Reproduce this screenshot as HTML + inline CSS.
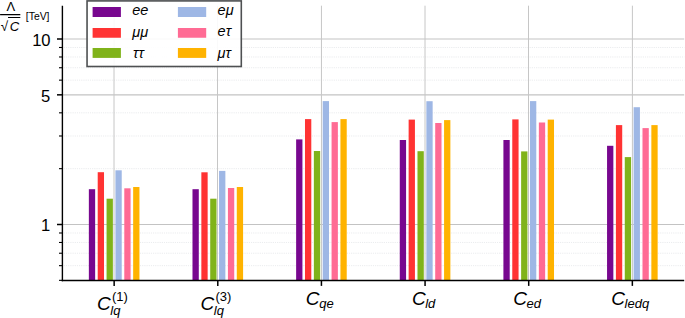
<!DOCTYPE html>
<html><head><meta charset="utf-8"><title>chart</title>
<style>html,body{margin:0;padding:0;background:#fff;font-family:"Liberation Sans",sans-serif;}svg{display:block}</style>
</head><body>
<svg role="img" aria-label="Bar chart of Lambda over sqrt C in TeV for six Wilson coefficients" width="685" height="318" viewBox="0 0 685 318" style="display:block">
<rect width="685" height="318" fill="#fff"/>
<line x1="62.4" x2="684.2" y1="265.65" y2="265.65" stroke="#d5d9dd" stroke-width="0.7" stroke-dasharray="0.7 1.15"/>
<line x1="62.4" x2="684.2" y1="253.23" y2="253.23" stroke="#d5d9dd" stroke-width="0.7" stroke-dasharray="0.7 1.15"/>
<line x1="62.4" x2="684.2" y1="242.48" y2="242.48" stroke="#d5d9dd" stroke-width="0.7" stroke-dasharray="0.7 1.15"/>
<line x1="62.4" x2="684.2" y1="232.99" y2="232.99" stroke="#d5d9dd" stroke-width="0.7" stroke-dasharray="0.7 1.15"/>
<line x1="62.4" x2="684.2" y1="168.66" y2="168.66" stroke="#d5d9dd" stroke-width="0.7" stroke-dasharray="0.7 1.15"/>
<line x1="62.4" x2="684.2" y1="135.99" y2="135.99" stroke="#d5d9dd" stroke-width="0.7" stroke-dasharray="0.7 1.15"/>
<line x1="62.4" x2="684.2" y1="112.82" y2="112.82" stroke="#d5d9dd" stroke-width="0.7" stroke-dasharray="0.7 1.15"/>
<line x1="62.4" x2="684.2" y1="80.15" y2="80.15" stroke="#d5d9dd" stroke-width="0.7" stroke-dasharray="0.7 1.15"/>
<line x1="62.4" x2="684.2" y1="67.73" y2="67.73" stroke="#d5d9dd" stroke-width="0.7" stroke-dasharray="0.7 1.15"/>
<line x1="62.4" x2="684.2" y1="56.98" y2="56.98" stroke="#d5d9dd" stroke-width="0.7" stroke-dasharray="0.7 1.15"/>
<line x1="62.4" x2="684.2" y1="47.49" y2="47.49" stroke="#d5d9dd" stroke-width="0.7" stroke-dasharray="0.7 1.15"/>
<line x1="62.4" x2="684.2" y1="224.50" y2="224.50" stroke="#c3c3c3" stroke-width="1.12"/>
<line x1="62.4" x2="684.2" y1="94.84" y2="94.84" stroke="#c3c3c3" stroke-width="1.12"/>
<line x1="62.4" x2="684.2" y1="39.00" y2="39.00" stroke="#c3c3c3" stroke-width="1.12"/>
<line x1="114.00" x2="114.00" y1="5.7" y2="280.5" stroke="#c6c6c6" stroke-width="1.0"/>
<line x1="217.50" x2="217.50" y1="5.7" y2="280.5" stroke="#c6c6c6" stroke-width="1.0"/>
<line x1="321.45" x2="321.45" y1="5.7" y2="280.5" stroke="#c6c6c6" stroke-width="1.0"/>
<line x1="425.00" x2="425.00" y1="5.7" y2="280.5" stroke="#c6c6c6" stroke-width="1.0"/>
<line x1="528.50" x2="528.50" y1="5.7" y2="280.5" stroke="#c6c6c6" stroke-width="1.0"/>
<line x1="632.40" x2="632.40" y1="5.7" y2="280.5" stroke="#c6c6c6" stroke-width="1.0"/>
<rect x="88.85" y="189.20" width="6.3" height="91.30" fill="#78078f"/>
<rect x="97.71" y="172.20" width="6.3" height="108.30" fill="#ff3333"/>
<rect x="106.57" y="198.70" width="6.3" height="81.80" fill="#80b31a"/>
<rect x="115.43" y="170.30" width="6.3" height="110.20" fill="#9eb7e5"/>
<rect x="124.29" y="188.30" width="6.3" height="92.20" fill="#ff6b94"/>
<rect x="133.15" y="187.00" width="6.3" height="93.50" fill="#ffb300"/>
<rect x="192.49" y="189.20" width="6.3" height="91.30" fill="#78078f"/>
<rect x="201.35" y="172.30" width="6.3" height="108.20" fill="#ff3333"/>
<rect x="210.21" y="198.70" width="6.3" height="81.80" fill="#80b31a"/>
<rect x="219.07" y="170.90" width="6.3" height="109.60" fill="#9eb7e5"/>
<rect x="227.93" y="188.00" width="6.3" height="92.50" fill="#ff6b94"/>
<rect x="236.79" y="187.00" width="6.3" height="93.50" fill="#ffb300"/>
<rect x="296.13" y="139.40" width="6.3" height="141.10" fill="#78078f"/>
<rect x="304.99" y="119.10" width="6.3" height="161.40" fill="#ff3333"/>
<rect x="313.85" y="151.00" width="6.3" height="129.50" fill="#80b31a"/>
<rect x="322.71" y="101.10" width="6.3" height="179.40" fill="#9eb7e5"/>
<rect x="331.57" y="122.10" width="6.3" height="158.40" fill="#ff6b94"/>
<rect x="340.43" y="119.10" width="6.3" height="161.40" fill="#ffb300"/>
<rect x="399.77" y="140.00" width="6.3" height="140.50" fill="#78078f"/>
<rect x="408.63" y="119.60" width="6.3" height="160.90" fill="#ff3333"/>
<rect x="417.49" y="151.20" width="6.3" height="129.30" fill="#80b31a"/>
<rect x="426.35" y="101.20" width="6.3" height="179.30" fill="#9eb7e5"/>
<rect x="435.21" y="123.00" width="6.3" height="157.50" fill="#ff6b94"/>
<rect x="444.07" y="120.10" width="6.3" height="160.40" fill="#ffb300"/>
<rect x="503.41" y="140.00" width="6.3" height="140.50" fill="#78078f"/>
<rect x="512.27" y="119.40" width="6.3" height="161.10" fill="#ff3333"/>
<rect x="521.13" y="151.40" width="6.3" height="129.10" fill="#80b31a"/>
<rect x="529.99" y="101.10" width="6.3" height="179.40" fill="#9eb7e5"/>
<rect x="538.85" y="122.50" width="6.3" height="158.00" fill="#ff6b94"/>
<rect x="547.71" y="119.60" width="6.3" height="160.90" fill="#ffb300"/>
<rect x="607.05" y="145.80" width="6.3" height="134.70" fill="#78078f"/>
<rect x="615.91" y="125.10" width="6.3" height="155.40" fill="#ff3333"/>
<rect x="624.77" y="157.10" width="6.3" height="123.40" fill="#80b31a"/>
<rect x="633.63" y="107.20" width="6.3" height="173.30" fill="#9eb7e5"/>
<rect x="642.49" y="128.10" width="6.3" height="152.40" fill="#ff6b94"/>
<rect x="651.35" y="125.10" width="6.3" height="155.40" fill="#ffb300"/>
<line x1="62.4" x2="62.4" y1="5.7" y2="281.2" stroke="#000" stroke-width="1.4"/>
<line x1="61.699999999999996" x2="684.2" y1="280.5" y2="280.5" stroke="#000" stroke-width="1.4"/>
<line x1="57.0" x2="62.4" y1="224.50" y2="224.50" stroke="#000" stroke-width="1.5"/>
<line x1="57.0" x2="62.4" y1="94.84" y2="94.84" stroke="#000" stroke-width="1.5"/>
<line x1="57.0" x2="62.4" y1="39.00" y2="39.00" stroke="#000" stroke-width="1.5"/>
<line x1="59.0" x2="62.4" y1="280.34" y2="280.34" stroke="#000" stroke-width="1.1"/>
<line x1="59.0" x2="62.4" y1="265.65" y2="265.65" stroke="#000" stroke-width="1.1"/>
<line x1="59.0" x2="62.4" y1="253.23" y2="253.23" stroke="#000" stroke-width="1.1"/>
<line x1="59.0" x2="62.4" y1="242.48" y2="242.48" stroke="#000" stroke-width="1.1"/>
<line x1="59.0" x2="62.4" y1="232.99" y2="232.99" stroke="#000" stroke-width="1.1"/>
<line x1="59.0" x2="62.4" y1="168.66" y2="168.66" stroke="#000" stroke-width="1.1"/>
<line x1="59.0" x2="62.4" y1="135.99" y2="135.99" stroke="#000" stroke-width="1.1"/>
<line x1="59.0" x2="62.4" y1="112.82" y2="112.82" stroke="#000" stroke-width="1.1"/>
<line x1="59.0" x2="62.4" y1="80.15" y2="80.15" stroke="#000" stroke-width="1.1"/>
<line x1="59.0" x2="62.4" y1="67.73" y2="67.73" stroke="#000" stroke-width="1.1"/>
<line x1="59.0" x2="62.4" y1="56.98" y2="56.98" stroke="#000" stroke-width="1.1"/>
<line x1="59.0" x2="62.4" y1="47.49" y2="47.49" stroke="#000" stroke-width="1.1"/>
<line x1="114.15" x2="114.15" y1="280.5" y2="285.9" stroke="#000" stroke-width="1.5"/>
<line x1="217.79" x2="217.79" y1="280.5" y2="285.9" stroke="#000" stroke-width="1.5"/>
<line x1="321.43" x2="321.43" y1="280.5" y2="285.9" stroke="#000" stroke-width="1.5"/>
<line x1="425.07" x2="425.07" y1="280.5" y2="285.9" stroke="#000" stroke-width="1.5"/>
<line x1="528.71" x2="528.71" y1="280.5" y2="285.9" stroke="#000" stroke-width="1.5"/>
<line x1="632.35" x2="632.35" y1="280.5" y2="285.9" stroke="#000" stroke-width="1.5"/>
<g font-family="'Liberation Sans', 'DejaVu Sans', sans-serif" fill="#000">
<text x="50.6" y="45.6" font-size="16.6" text-anchor="end">10</text>
<text x="50.3" y="101.5" font-size="16.6" text-anchor="end">5</text>
<text x="50.2" y="231.1" font-size="16.6" text-anchor="end">1</text>
<text x="10.8" y="10.7" font-size="13" text-anchor="middle">Λ</text>
<text x="0.8" y="30.8" font-size="13.5">√</text>
<text x="9.8" y="30.8" font-size="13.2" font-style="italic">C</text>
<text x="25.8" y="20" font-size="10.4">[TeV]</text>
</g>
<path d="M0.10 15.13L0.10 13.98L20.30 13.98L20.30 15.13L0.10 15.13ZM8.02 17.91L8.02 17.10L20.30 17.10L20.30 17.91L8.02 17.91Z" fill="#000"/>
<g font-family="'Liberation Sans', 'DejaVu Sans', sans-serif" fill="#000">
<text x="97" y="310.3" font-size="19" font-style="italic">C</text>
<text x="112" y="301.4" font-size="13">(1)</text>
<text x="110.3" y="315.3" font-size="13" font-style="italic">lq</text>
<text x="200.5" y="310.3" font-size="19" font-style="italic">C</text>
<text x="215.5" y="301.4" font-size="13">(3)</text>
<text x="213.8" y="315.3" font-size="13" font-style="italic">lq</text>
<text x="305.8" y="305" font-size="19" font-style="italic">C</text>
<text x="319.2" y="307.8" font-size="13" font-style="italic">qe</text>
<text x="411.9" y="305" font-size="19" font-style="italic">C</text>
<text x="425.2" y="307.8" font-size="13" font-style="italic">ld</text>
<text x="513.2" y="305" font-size="19" font-style="italic">C</text>
<text x="526.6" y="307.8" font-size="13" font-style="italic">ed</text>
<text x="611.3" y="305" font-size="19" font-style="italic">C</text>
<text x="624.6" y="307.8" font-size="13" font-style="italic">ledq</text>
</g>
<rect x="87.05" y="0.9" width="154.25" height="65.6" fill="#fff" fill-opacity="0.9" stroke="#4e5052" stroke-width="1.6"/>
<rect x="92.60" y="7.00" width="28.3" height="10" fill="#78078f"/>
<rect x="92.60" y="28.00" width="28.3" height="9.75" fill="#ff3333"/>
<rect x="92.60" y="48.00" width="28.3" height="9.9" fill="#80b31a"/>
<rect x="177.90" y="7.00" width="28.3" height="10" fill="#9eb7e5"/>
<rect x="177.90" y="28.00" width="28.3" height="9.75" fill="#ff6b94"/>
<rect x="177.90" y="48.00" width="28.3" height="9.9" fill="#ffb300"/>
<g font-family="'Liberation Sans', 'DejaVu Sans', sans-serif" font-size="14.5" font-style="italic" fill="#000">
<text x="132.3" y="15.3">ee</text>
<text x="132.3" y="36.9">μμ</text>
<text x="133" y="57.6">ττ</text>
<text x="217.6" y="15.3">eμ</text>
<text x="217.6" y="36.2">eτ</text>
<text x="217.6" y="57.6">μτ</text>
</g>
</svg>
</body></html>
